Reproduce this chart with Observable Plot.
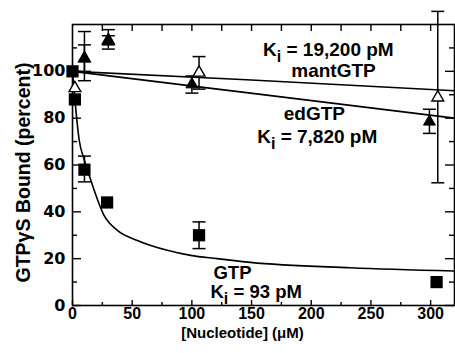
<!DOCTYPE html>
<html><head><meta charset="utf-8">
<script src="https://cdn.jsdelivr.net/npm/d3@7"></script>
<script src="https://cdn.jsdelivr.net/npm/@observablehq/plot@0.6"></script>
<style>
body{margin:0;background:#fff;}
#chart svg{display:block;background:#fff;}
g[aria-label="y-axis tick label"]{font-family:"DejaVu Sans",sans-serif;font-weight:bold;font-size:16px;fill:#000;}
g[aria-label="x-axis tick label"]{font-family:"Liberation Sans",Arial,sans-serif;font-weight:bold;font-size:16px;fill:#000;}
</style></head><body><div id="chart"></div>
<script>
// GTP (filled squares)
const gtpX  = [0, 2, 10, 29, 106, 305];
const gtpY  = [100, 88, 58, 44, 30, 10];
const gtpLo = [null, null, 52.8, null, 24.3, null];
const gtpHi = [null, null, 63.8, null, 35.7, null];
// edGTP (filled triangles)
const edX  = [10, 30, 100, 299];
const edY  = [105.5, 113.2, 94.4, 78.5];
const edLo = [100, 109.5, 90.7, 73.5];
const edHi = [111.3, 117.8, 98, 83.8];
// mantGTP (open triangles)
const mantX  = [2, 10, 30, 106, 306];
const mantY  = [92.8, 105.5, 113.2, 99.4, 88.8];
const mantLo = [null, 96, 111.3, 92.4, 52.4];
const mantHi = [null, 117, 115.2, 106.3, 125.6];
// fitted curves
const gtpFitX = [0, 2, 5.5, 10, 15, 26.4, 37.6, 54.3, 79.4, 98.9, 121.2, 149, 232.7, 319.6];
const gtpFitY = [100, 88, 71, 62, 54, 38.5, 32.1, 27.8, 23.6, 21.4, 20, 18.4, 16.1, 14.7];
const mantFitX = [0, 145.7, 320];
const mantFitY = [100, 96.4, 91.7];
const edFitX = [0, 145.7, 320];
const edFitY = [100, 90.9, 80];
// tick values
const xTickLabels = [0, 50, 100, 150, 200, 250, 300];
const xMinorTicks = [25, 75, 125, 175, 225, 275];
const xTopTicks = [25, 50, 75, 100, 125, 150, 175, 200, 225, 250, 275, 300];
const yTickLabels = [0, 20, 40, 60, 80, 100];
const yMinorTicks = [10, 30, 50, 70, 90, 110];
// annotations
const annotText = ["K_i = 19,200 pM", "mantGTP", "edGTP", "K_i = 7,820 pM"];
const annotX = [214.3, 218.6, 202.6, 205];
const annotY = [106.6, 97.6, 79.2, 69.4];
const gtpText = ["GTP", "K_i = 93 pM"];
const gtpTextX = [118.1, 115.6];
const gtpTextY = [11.4, 3.0];

const W = 455, H = 353, mL = 72, mR = 1, mT = 24, mB = 48;
const pw = W - mL - mR, ph = H - mT - mB;
const FONT = '"Liberation Sans", Arial, sans-serif';

const pts = (X, Y) => X.map((x, i) => ({x, y: Y[i]}));
const errs = (X, Lo, Hi) => X.map((x, i) => ({x, lo: Lo[i], hi: Hi[i]})).filter(d => d.lo != null);
const caps = (E) => E.flatMap(d => [{x: d.x, y: d.lo}, {x: d.x, y: d.hi}]);
const capSymbol = {draw(ctx, size) { const w = Math.sqrt(size / Math.PI); ctx.moveTo(-w, 0); ctx.lineTo(w, 0); }};

const gtpE = errs(gtpX, gtpLo, gtpHi), edE = errs(edX, edLo, edHi), mantE = errs(mantX, mantLo, mantHi);
const allE = [...mantE, ...edE, ...gtpE];

const chart = Plot.plot({
  width: W, height: H, marginLeft: mL, marginRight: mR, marginTop: mT, marginBottom: mB,
  style: {fontFamily: FONT, background: "#fff"},
  x: {domain: [0, 320]},
  y: {domain: [0, 120]},
  marks: [
    Plot.axisY({ticks: yTickLabels, tickSize: 0, tickPadding: 7, label: null}),
    Plot.axisX({ticks: xTickLabels, tickSize: 0, tickPadding: 2, label: null}),
    // inward ticks
    Plot.tickY(yTickLabels, {y: d => d, insetRight: pw - 9, stroke: "#000", strokeWidth: 1.4}),
    Plot.tickY(yMinorTicks, {y: d => d, insetRight: pw - 5, stroke: "#000", strokeWidth: 1.4}),
    Plot.tickY(yTickLabels, {y: d => d, insetLeft: pw - 9, stroke: "#000", strokeWidth: 1.4}),
    Plot.tickY(yMinorTicks, {y: d => d, insetLeft: pw - 5, stroke: "#000", strokeWidth: 1.4}),
    Plot.tickX(xTickLabels, {x: d => d, insetTop: ph - 5, stroke: "#000", strokeWidth: 1.4}),
    Plot.tickX(xMinorTicks, {x: d => d, insetTop: ph - 3, stroke: "#000", strokeWidth: 1.4}),
    Plot.tickX(xTopTicks, {x: d => d, insetBottom: ph - 7, stroke: "#000", strokeWidth: 1.4}),
    Plot.frame({stroke: "#000", strokeWidth: 1.6}),
    // fits
    Plot.line(pts(gtpFitX, gtpFitY), {x: "x", y: "y", curve: "monotone-x", stroke: "#000", strokeWidth: 1.6}),
    Plot.line(pts(mantFitX, mantFitY), {x: "x", y: "y", curve: "monotone-x", stroke: "#000", strokeWidth: 1.6}),
    Plot.line(pts(edFitX, edFitY), {x: "x", y: "y", curve: "monotone-x", stroke: "#000", strokeWidth: 1.6}),
    // error bars
    Plot.ruleX(allE, {x: "x", y1: "lo", y2: "hi", stroke: "#000", strokeWidth: 1.5}),
    Plot.dot(caps(allE), {x: "x", y: "y", symbol: capSymbol, r: 6.5, fill: "none", stroke: "#000", strokeWidth: 1.5}),
    // markers
    Plot.dot(pts(mantX, mantY), {x: "x", y: "y", symbol: "triangle", r: 4.4, fill: "#fff", stroke: "#000", strokeWidth: 1.4}),
    Plot.dot(pts(edX, edY), {x: "x", y: "y", symbol: "triangle", r: 4.4, fill: "#000", stroke: "#000", strokeWidth: 1}),
    Plot.dot(pts(gtpX, gtpY), {x: "x", y: "y", symbol: "square", r: 6.9, fill: "#000", stroke: "none"}),
    // annotations
    Plot.text(annotText.map((t, i) => ({t, x: annotX[i], y: annotY[i]})), {x: "x", y: "y", text: "t", textAnchor: "middle", lineAnchor: "bottom", fontSize: 19, fontWeight: "bold", fill: "#000"}),
    Plot.text(gtpText.map((t, i) => ({t, x: gtpTextX[i], y: gtpTextY[i]})), {x: "x", y: "y", text: "t", textAnchor: "start", lineAnchor: "bottom", fontSize: 18.5, fontWeight: "bold", fill: "#000"}),
    // axis titles
    Plot.text(["GTPγS Bound (percent)"], {text: d => d, frameAnchor: "left", rotate: -90, dx: -49, dy: 7.5, textAnchor: "middle", lineAnchor: "middle", fontSize: 19.5, fontWeight: "bold", fill: "#000"}),
    Plot.text(["[Nucleotide] (μM)"], {text: d => d, frameAnchor: "bottom", dx: -21, dy: 32, textAnchor: "middle", lineAnchor: "bottom", fontSize: 15, fontWeight: "bold", fill: "#000"})
  ]
});

// subscript i in K_i
chart.querySelectorAll("text").forEach(el => {
  const s = el.textContent;
  if (s.startsWith("K_i")) {
    const rest = s.slice(3);
    el.textContent = "K";
    const ns = "http://www.w3.org/2000/svg";
    const sub = document.createElementNS(ns, "tspan");
    sub.setAttribute("dy", "6");
    sub.setAttribute("font-size", "16");
    sub.textContent = "i";
    const tail = document.createElementNS(ns, "tspan");
    tail.setAttribute("dy", "-6");
    tail.textContent = rest;
    el.appendChild(sub);
    el.appendChild(tail);
  }
});
document.getElementById("chart").appendChild(chart);
</script>
</body></html>
